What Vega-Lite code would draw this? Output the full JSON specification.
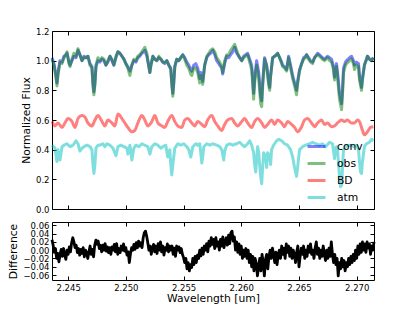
{
  "$schema": "https://vega.github.io/schema/vega-lite/v6.json",
  "padding": {"left": 7, "top": 26, "right": 5, "bottom": 5},
  "spacing": 13,
  "bounds": "flush",
  "config": {
    "font": "DejaVu Sans",
    "view": {"stroke": "black", "strokeWidth": 1},
    "axis": {"grid": false, "domain": false, "tickColor": "black", "tickSize": -4, "tickWidth": 1, "labelPadding": 7, "labelFontSize": 8.5, "labelColor": "black", "labelFont": "DejaVu Sans", "labelFlush": false, "labelOverlap": false, "titleFontSize": 10.75, "titleFontWeight": "normal", "titleColor": "black", "titleFont": "DejaVu Sans", "titlePadding": 4}
  },
  "datasets": {
    "spec": [
      {"w": 2.2436, "conv": 1.02, "obs": 1.01},
      {"w": 2.24377, "conv": 0.98, "obs": 0.97},
      {"w": 2.24395, "conv": 0.90, "obs": 0.88},
      {"w": 2.24403, "conv": 0.85, "obs": 0.83},
      {"w": 2.24412, "conv": 0.92, "obs": 0.90},
      {"w": 2.24429, "conv": 1.00, "obs": 0.99},
      {"w": 2.24447, "conv": 0.99, "obs": 0.98},
      {"w": 2.24464, "conv": 1.03, "obs": 1.02},
      {"w": 2.24481, "conv": 1.04, "obs": 1.04},
      {"w": 2.2449, "conv": 1.05, "obs": 1.06},
      {"w": 2.24507, "conv": 0.99, "obs": 0.98},
      {"w": 2.24516, "conv": 0.97, "obs": 0.96},
      {"w": 2.24533, "conv": 1.00, "obs": 1.01},
      {"w": 2.2455, "conv": 1.03, "obs": 1.05},
      {"w": 2.24568, "conv": 1.02, "obs": 1.03},
      {"w": 2.24585, "conv": 1.07, "obs": 1.08},
      {"w": 2.24602, "conv": 1.04, "obs": 1.04},
      {"w": 2.2462, "conv": 1.00, "obs": 1.00},
      {"w": 2.24637, "conv": 1.03, "obs": 1.02},
      {"w": 2.24654, "conv": 1.02, "obs": 1.02},
      {"w": 2.24671, "conv": 1.03, "obs": 1.03},
      {"w": 2.24689, "conv": 0.98, "obs": 0.97},
      {"w": 2.24706, "conv": 0.96, "obs": 0.95},
      {"w": 2.24715, "conv": 0.85, "obs": 0.83},
      {"w": 2.24723, "conv": 0.79, "obs": 0.77},
      {"w": 2.24732, "conv": 0.85, "obs": 0.84},
      {"w": 2.24741, "conv": 0.96, "obs": 0.97},
      {"w": 2.24758, "conv": 1.00, "obs": 1.02},
      {"w": 2.24775, "conv": 0.99, "obs": 1.00},
      {"w": 2.24793, "conv": 1.01, "obs": 1.02},
      {"w": 2.2481, "conv": 1.00, "obs": 1.01},
      {"w": 2.24827, "conv": 0.97, "obs": 0.97},
      {"w": 2.24844, "conv": 0.99, "obs": 1.00},
      {"w": 2.24862, "conv": 1.03, "obs": 1.03},
      {"w": 2.24879, "conv": 1.00, "obs": 1.01},
      {"w": 2.24896, "conv": 0.97, "obs": 0.97},
      {"w": 2.24914, "conv": 1.02, "obs": 1.03},
      {"w": 2.24931, "conv": 1.06, "obs": 1.06},
      {"w": 2.24948, "conv": 1.05, "obs": 1.05},
      {"w": 2.24966, "conv": 1.03, "obs": 1.03},
      {"w": 2.24983, "conv": 1.01, "obs": 1.01},
      {"w": 2.25, "conv": 0.98, "obs": 0.98},
      {"w": 2.25017, "conv": 0.96, "obs": 0.95},
      {"w": 2.25035, "conv": 0.93, "obs": 0.90},
      {"w": 2.25052, "conv": 0.97, "obs": 0.97},
      {"w": 2.25069, "conv": 1.00, "obs": 1.01},
      {"w": 2.25087, "conv": 0.99, "obs": 1.00},
      {"w": 2.25104, "conv": 1.02, "obs": 1.03},
      {"w": 2.25121, "conv": 1.03, "obs": 1.04},
      {"w": 2.25139, "conv": 1.05, "obs": 1.06},
      {"w": 2.25156, "conv": 1.06, "obs": 1.08},
      {"w": 2.25164, "conv": 1.07, "obs": 1.09},
      {"w": 2.25182, "conv": 1.03, "obs": 1.05},
      {"w": 2.25199, "conv": 0.96, "obs": 0.96},
      {"w": 2.25208, "conv": 0.92, "obs": 0.92},
      {"w": 2.25216, "conv": 0.97, "obs": 0.96},
      {"w": 2.25234, "conv": 1.03, "obs": 1.03},
      {"w": 2.25251, "conv": 1.01, "obs": 1.01},
      {"w": 2.25268, "conv": 1.00, "obs": 1.00},
      {"w": 2.25286, "conv": 1.02, "obs": 1.03},
      {"w": 2.25303, "conv": 1.01, "obs": 1.01},
      {"w": 2.2532, "conv": 0.99, "obs": 0.99},
      {"w": 2.25337, "conv": 0.98, "obs": 0.99},
      {"w": 2.25355, "conv": 1.00, "obs": 1.00},
      {"w": 2.25372, "conv": 0.97, "obs": 0.97},
      {"w": 2.25389, "conv": 0.95, "obs": 0.94},
      {"w": 2.25398, "conv": 0.85, "obs": 0.84},
      {"w": 2.25407, "conv": 0.78, "obs": 0.76},
      {"w": 2.25415, "conv": 0.85, "obs": 0.85},
      {"w": 2.25424, "conv": 0.96, "obs": 0.96},
      {"w": 2.25441, "conv": 1.01, "obs": 1.01},
      {"w": 2.25459, "conv": 1.00, "obs": 1.00},
      {"w": 2.25476, "conv": 1.02, "obs": 1.02},
      {"w": 2.25493, "conv": 1.04, "obs": 1.04},
      {"w": 2.2551, "conv": 1.02, "obs": 1.01},
      {"w": 2.25528, "conv": 0.99, "obs": 0.97},
      {"w": 2.25545, "conv": 0.97, "obs": 0.95},
      {"w": 2.25562, "conv": 0.94, "obs": 0.91},
      {"w": 2.25571, "conv": 0.93, "obs": 0.90},
      {"w": 2.25588, "conv": 0.97, "obs": 0.95},
      {"w": 2.25606, "conv": 0.98, "obs": 0.95},
      {"w": 2.25623, "conv": 0.95, "obs": 0.92},
      {"w": 2.2564, "conv": 0.88, "obs": 0.85},
      {"w": 2.25649, "conv": 0.92, "obs": 0.90},
      {"w": 2.25666, "conv": 0.86, "obs": 0.84},
      {"w": 2.25683, "conv": 0.97, "obs": 0.97},
      {"w": 2.25701, "conv": 1.02, "obs": 1.03},
      {"w": 2.25718, "conv": 1.04, "obs": 1.05},
      {"w": 2.25735, "conv": 1.05, "obs": 1.07},
      {"w": 2.25753, "conv": 1.07, "obs": 1.08},
      {"w": 2.2577, "conv": 1.04, "obs": 1.06},
      {"w": 2.25787, "conv": 1.00, "obs": 1.02},
      {"w": 2.25805, "conv": 0.98, "obs": 1.00},
      {"w": 2.25813, "conv": 0.97, "obs": 0.99},
      {"w": 2.25831, "conv": 0.95, "obs": 0.96},
      {"w": 2.25839, "conv": 0.91, "obs": 0.92},
      {"w": 2.25856, "conv": 0.98, "obs": 1.00},
      {"w": 2.25874, "conv": 1.03, "obs": 1.04},
      {"w": 2.25891, "conv": 1.02, "obs": 1.04},
      {"w": 2.25908, "conv": 1.04, "obs": 1.07},
      {"w": 2.25926, "conv": 1.06, "obs": 1.09},
      {"w": 2.25943, "conv": 1.09, "obs": 1.11},
      {"w": 2.2596, "conv": 1.05, "obs": 1.07},
      {"w": 2.25969, "conv": 1.04, "obs": 1.05},
      {"w": 2.25986, "conv": 1.02, "obs": 1.02},
      {"w": 2.26004, "conv": 1.00, "obs": 1.00},
      {"w": 2.26021, "conv": 1.03, "obs": 1.02},
      {"w": 2.26038, "conv": 1.04, "obs": 1.03},
      {"w": 2.26055, "conv": 1.05, "obs": 1.04},
      {"w": 2.26073, "conv": 1.01, "obs": 0.99},
      {"w": 2.2609, "conv": 0.97, "obs": 0.94},
      {"w": 2.26099, "conv": 0.88, "obs": 0.84},
      {"w": 2.26107, "conv": 0.78, "obs": 0.74},
      {"w": 2.26116, "conv": 0.88, "obs": 0.85},
      {"w": 2.26133, "conv": 1.00, "obs": 0.97},
      {"w": 2.26142, "conv": 0.96, "obs": 0.93},
      {"w": 2.26151, "conv": 0.92, "obs": 0.88},
      {"w": 2.26159, "conv": 0.85, "obs": 0.80},
      {"w": 2.26168, "conv": 0.76, "obs": 0.71},
      {"w": 2.26177, "conv": 0.73, "obs": 0.69},
      {"w": 2.26185, "conv": 0.85, "obs": 0.82},
      {"w": 2.26202, "conv": 1.02, "obs": 1.01},
      {"w": 2.2622, "conv": 0.97, "obs": 0.96},
      {"w": 2.26228, "conv": 0.92, "obs": 0.90},
      {"w": 2.26237, "conv": 0.86, "obs": 0.84},
      {"w": 2.26246, "conv": 0.82, "obs": 0.80},
      {"w": 2.26254, "conv": 0.90, "obs": 0.89},
      {"w": 2.26272, "conv": 1.02, "obs": 1.02},
      {"w": 2.26289, "conv": 1.03, "obs": 1.03},
      {"w": 2.26306, "conv": 1.04, "obs": 1.04},
      {"w": 2.26315, "conv": 1.05, "obs": 1.05},
      {"w": 2.26332, "conv": 1.02, "obs": 1.02},
      {"w": 2.2635, "conv": 0.99, "obs": 0.98},
      {"w": 2.26358, "conv": 0.97, "obs": 0.96},
      {"w": 2.26375, "conv": 0.96, "obs": 0.95},
      {"w": 2.26393, "conv": 0.94, "obs": 0.93},
      {"w": 2.2641, "conv": 1.03, "obs": 1.02},
      {"w": 2.26427, "conv": 0.97, "obs": 0.95},
      {"w": 2.26445, "conv": 0.90, "obs": 0.88},
      {"w": 2.26462, "conv": 0.85, "obs": 0.83},
      {"w": 2.26479, "conv": 0.80, "obs": 0.77},
      {"w": 2.26488, "conv": 0.86, "obs": 0.84},
      {"w": 2.26505, "conv": 0.94, "obs": 0.93},
      {"w": 2.26523, "conv": 0.98, "obs": 0.98},
      {"w": 2.2654, "conv": 1.02, "obs": 1.01},
      {"w": 2.26557, "conv": 1.03, "obs": 1.02},
      {"w": 2.26566, "conv": 1.04, "obs": 1.04},
      {"w": 2.26583, "conv": 1.02, "obs": 1.01},
      {"w": 2.266, "conv": 1.00, "obs": 0.99},
      {"w": 2.26618, "conv": 0.99, "obs": 0.98},
      {"w": 2.26635, "conv": 1.02, "obs": 1.02},
      {"w": 2.26661, "conv": 1.05, "obs": 1.04},
      {"w": 2.26678, "conv": 1.04, "obs": 1.03},
      {"w": 2.26704, "conv": 1.02, "obs": 1.01},
      {"w": 2.26721, "conv": 1.01, "obs": 1.00},
      {"w": 2.26747, "conv": 1.03, "obs": 1.02},
      {"w": 2.26765, "conv": 1.02, "obs": 1.00},
      {"w": 2.26782, "conv": 1.01, "obs": 0.99},
      {"w": 2.26799, "conv": 0.96, "obs": 0.94},
      {"w": 2.26808, "conv": 0.89, "obs": 0.87},
      {"w": 2.26817, "conv": 0.94, "obs": 0.92},
      {"w": 2.26825, "conv": 0.98, "obs": 0.96},
      {"w": 2.26834, "conv": 0.92, "obs": 0.89},
      {"w": 2.26843, "conv": 0.85, "obs": 0.81},
      {"w": 2.26851, "conv": 0.78, "obs": 0.74},
      {"w": 2.26869, "conv": 0.71, "obs": 0.67},
      {"w": 2.26877, "conv": 0.80, "obs": 0.77},
      {"w": 2.26886, "conv": 0.95, "obs": 0.92},
      {"w": 2.26903, "conv": 0.99, "obs": 0.97},
      {"w": 2.26912, "conv": 1.00, "obs": 0.98},
      {"w": 2.26938, "conv": 1.02, "obs": 1.00},
      {"w": 2.26955, "conv": 1.03, "obs": 1.01},
      {"w": 2.26972, "conv": 1.00, "obs": 0.98},
      {"w": 2.26981, "conv": 0.97, "obs": 0.94},
      {"w": 2.26998, "conv": 0.99, "obs": 0.97},
      {"w": 2.27016, "conv": 0.98, "obs": 0.96},
      {"w": 2.27024, "conv": 0.90, "obs": 0.87},
      {"w": 2.27042, "conv": 0.82, "obs": 0.80},
      {"w": 2.2705, "conv": 0.88, "obs": 0.87},
      {"w": 2.27067, "conv": 0.97, "obs": 0.97},
      {"w": 2.27085, "conv": 1.01, "obs": 1.01},
      {"w": 2.27093, "conv": 1.03, "obs": 1.03},
      {"w": 2.27111, "conv": 1.01, "obs": 1.01},
      {"w": 2.27128, "conv": 1.00, "obs": 1.00},
      {"w": 2.27145, "conv": 1.02, "obs": 1.02}
    ],
    "bd": [
      {"w": 2.2436, "f": 0.59}, {"w": 2.24386, "f": 0.56}, {"w": 2.24412, "f": 0.58}, {"w": 2.24447, "f": 0.55},
      {"w": 2.24472, "f": 0.58}, {"w": 2.24498, "f": 0.61}, {"w": 2.24533, "f": 0.59}, {"w": 2.24559, "f": 0.55},
      {"w": 2.24585, "f": 0.61}, {"w": 2.2462, "f": 0.63}, {"w": 2.24645, "f": 0.62}, {"w": 2.24671, "f": 0.58},
      {"w": 2.24706, "f": 0.56}, {"w": 2.24732, "f": 0.60}, {"w": 2.24758, "f": 0.63}, {"w": 2.24793, "f": 0.59},
      {"w": 2.24818, "f": 0.56}, {"w": 2.24844, "f": 0.60}, {"w": 2.24879, "f": 0.58}, {"w": 2.24905, "f": 0.56},
      {"w": 2.24931, "f": 0.64}, {"w": 2.24966, "f": 0.61}, {"w": 2.24991, "f": 0.58}, {"w": 2.25017, "f": 0.55},
      {"w": 2.25052, "f": 0.52}, {"w": 2.25078, "f": 0.53}, {"w": 2.25104, "f": 0.58}, {"w": 2.25139, "f": 0.63},
      {"w": 2.25164, "f": 0.60}, {"w": 2.2519, "f": 0.56}, {"w": 2.25225, "f": 0.59}, {"w": 2.25251, "f": 0.63},
      {"w": 2.25277, "f": 0.58}, {"w": 2.25312, "f": 0.56}, {"w": 2.25337, "f": 0.55}, {"w": 2.25363, "f": 0.59},
      {"w": 2.25398, "f": 0.63}, {"w": 2.25424, "f": 0.59}, {"w": 2.2545, "f": 0.56}, {"w": 2.25485, "f": 0.55},
      {"w": 2.2551, "f": 0.60}, {"w": 2.25536, "f": 0.61}, {"w": 2.25571, "f": 0.58}, {"w": 2.25597, "f": 0.56},
      {"w": 2.25623, "f": 0.59}, {"w": 2.25658, "f": 0.57}, {"w": 2.25683, "f": 0.555}, {"w": 2.25709, "f": 0.60},
      {"w": 2.25744, "f": 0.63}, {"w": 2.2577, "f": 0.59}, {"w": 2.25796, "f": 0.56}, {"w": 2.25831, "f": 0.53},
      {"w": 2.25856, "f": 0.57}, {"w": 2.25882, "f": 0.60}, {"w": 2.25917, "f": 0.61}, {"w": 2.25943, "f": 0.58},
      {"w": 2.25969, "f": 0.56}, {"w": 2.26004, "f": 0.59}, {"w": 2.26029, "f": 0.61}, {"w": 2.26055, "f": 0.58},
      {"w": 2.2609, "f": 0.55}, {"w": 2.26116, "f": 0.59}, {"w": 2.26142, "f": 0.61}, {"w": 2.26177, "f": 0.58},
      {"w": 2.26202, "f": 0.55}, {"w": 2.26228, "f": 0.57}, {"w": 2.26263, "f": 0.60}, {"w": 2.26289, "f": 0.57},
      {"w": 2.26315, "f": 0.60}, {"w": 2.2635, "f": 0.58}, {"w": 2.26375, "f": 0.555}, {"w": 2.26401, "f": 0.59},
      {"w": 2.26436, "f": 0.57}, {"w": 2.26462, "f": 0.55}, {"w": 2.26488, "f": 0.52}, {"w": 2.26523, "f": 0.555},
      {"w": 2.26548, "f": 0.60}, {"w": 2.26574, "f": 0.61}, {"w": 2.26609, "f": 0.58}, {"w": 2.26635, "f": 0.555},
      {"w": 2.26661, "f": 0.58}, {"w": 2.26696, "f": 0.60}, {"w": 2.26721, "f": 0.57}, {"w": 2.26747, "f": 0.58},
      {"w": 2.26782, "f": 0.555}, {"w": 2.26808, "f": 0.56}, {"w": 2.26834, "f": 0.58}, {"w": 2.26869, "f": 0.60},
      {"w": 2.26894, "f": 0.59}, {"w": 2.2692, "f": 0.60}, {"w": 2.26955, "f": 0.58}, {"w": 2.26981, "f": 0.58},
      {"w": 2.27007, "f": 0.60}, {"w": 2.27024, "f": 0.59}, {"w": 2.2705, "f": 0.53}, {"w": 2.27067, "f": 0.50},
      {"w": 2.27093, "f": 0.52}, {"w": 2.27119, "f": 0.55}, {"w": 2.27145, "f": 0.555}
    ],
    "atm": [
      {"w": 2.2436, "f": 0.43}, {"w": 2.24386, "f": 0.41}, {"w": 2.24403, "f": 0.32}, {"w": 2.24412, "f": 0.40},
      {"w": 2.24429, "f": 0.33}, {"w": 2.24447, "f": 0.42}, {"w": 2.24464, "f": 0.43}, {"w": 2.2449, "f": 0.44},
      {"w": 2.24516, "f": 0.42}, {"w": 2.24542, "f": 0.43}, {"w": 2.24568, "f": 0.46}, {"w": 2.24585, "f": 0.44},
      {"w": 2.24602, "f": 0.39}, {"w": 2.2462, "f": 0.41}, {"w": 2.24637, "f": 0.42}, {"w": 2.24663, "f": 0.43},
      {"w": 2.24689, "f": 0.42}, {"w": 2.24706, "f": 0.40}, {"w": 2.24715, "f": 0.30}, {"w": 2.24723, "f": 0.24},
      {"w": 2.24732, "f": 0.30}, {"w": 2.24741, "f": 0.41}, {"w": 2.24758, "f": 0.43}, {"w": 2.24775, "f": 0.43},
      {"w": 2.24801, "f": 0.44}, {"w": 2.24818, "f": 0.42}, {"w": 2.24836, "f": 0.44}, {"w": 2.24862, "f": 0.43},
      {"w": 2.24888, "f": 0.41}, {"w": 2.24914, "f": 0.36}, {"w": 2.24931, "f": 0.42}, {"w": 2.24957, "f": 0.43},
      {"w": 2.24983, "f": 0.42}, {"w": 2.25009, "f": 0.41}, {"w": 2.25017, "f": 0.37}, {"w": 2.25035, "f": 0.43},
      {"w": 2.25052, "f": 0.33}, {"w": 2.25069, "f": 0.41}, {"w": 2.25087, "f": 0.43}, {"w": 2.25113, "f": 0.42},
      {"w": 2.25139, "f": 0.44}, {"w": 2.25164, "f": 0.43}, {"w": 2.2519, "f": 0.42}, {"w": 2.25208, "f": 0.37},
      {"w": 2.25225, "f": 0.42}, {"w": 2.25251, "f": 0.44}, {"w": 2.25277, "f": 0.43}, {"w": 2.25303, "f": 0.41},
      {"w": 2.2532, "f": 0.42}, {"w": 2.25346, "f": 0.43}, {"w": 2.25363, "f": 0.35}, {"w": 2.25381, "f": 0.40},
      {"w": 2.25389, "f": 0.30}, {"w": 2.25398, "f": 0.23}, {"w": 2.25407, "f": 0.30}, {"w": 2.25424, "f": 0.41},
      {"w": 2.2545, "f": 0.44}, {"w": 2.25476, "f": 0.43}, {"w": 2.25502, "f": 0.44}, {"w": 2.25528, "f": 0.42},
      {"w": 2.25545, "f": 0.40}, {"w": 2.25562, "f": 0.35}, {"w": 2.2558, "f": 0.42}, {"w": 2.25606, "f": 0.44},
      {"w": 2.25623, "f": 0.43}, {"w": 2.2564, "f": 0.44}, {"w": 2.25649, "f": 0.38}, {"w": 2.25658, "f": 0.31},
      {"w": 2.25666, "f": 0.35}, {"w": 2.25675, "f": 0.42}, {"w": 2.25701, "f": 0.44}, {"w": 2.25727, "f": 0.43},
      {"w": 2.25753, "f": 0.44}, {"w": 2.25787, "f": 0.43}, {"w": 2.25813, "f": 0.42}, {"w": 2.25831, "f": 0.40},
      {"w": 2.25848, "f": 0.33}, {"w": 2.25856, "f": 0.39}, {"w": 2.25874, "f": 0.43}, {"w": 2.259, "f": 0.44},
      {"w": 2.25926, "f": 0.43}, {"w": 2.2596, "f": 0.44}, {"w": 2.25986, "f": 0.45}, {"w": 2.26012, "f": 0.43},
      {"w": 2.26029, "f": 0.42}, {"w": 2.26055, "f": 0.44}, {"w": 2.26073, "f": 0.46}, {"w": 2.2609, "f": 0.43},
      {"w": 2.26107, "f": 0.38}, {"w": 2.26116, "f": 0.30}, {"w": 2.26125, "f": 0.25}, {"w": 2.26133, "f": 0.33},
      {"w": 2.26142, "f": 0.42}, {"w": 2.26151, "f": 0.38}, {"w": 2.26159, "f": 0.30}, {"w": 2.26168, "f": 0.22},
      {"w": 2.26177, "f": 0.17}, {"w": 2.26185, "f": 0.28}, {"w": 2.26194, "f": 0.38}, {"w": 2.26211, "f": 0.35},
      {"w": 2.2622, "f": 0.28}, {"w": 2.26228, "f": 0.38}, {"w": 2.26246, "f": 0.36}, {"w": 2.26254, "f": 0.30},
      {"w": 2.26263, "f": 0.40}, {"w": 2.2628, "f": 0.43}, {"w": 2.26306, "f": 0.46}, {"w": 2.26324, "f": 0.47},
      {"w": 2.2635, "f": 0.46}, {"w": 2.26375, "f": 0.44}, {"w": 2.26401, "f": 0.43}, {"w": 2.26427, "f": 0.40},
      {"w": 2.26445, "f": 0.35}, {"w": 2.26462, "f": 0.28}, {"w": 2.26479, "f": 0.22}, {"w": 2.26488, "f": 0.28},
      {"w": 2.26505, "f": 0.40}, {"w": 2.26531, "f": 0.42}, {"w": 2.26557, "f": 0.43}, {"w": 2.26592, "f": 0.44},
      {"w": 2.26618, "f": 0.45}, {"w": 2.26644, "f": 0.44}, {"w": 2.26678, "f": 0.43}, {"w": 2.26704, "f": 0.44},
      {"w": 2.2673, "f": 0.42}, {"w": 2.26765, "f": 0.45}, {"w": 2.26791, "f": 0.44}, {"w": 2.26808, "f": 0.34},
      {"w": 2.26817, "f": 0.40}, {"w": 2.26825, "f": 0.42}, {"w": 2.26834, "f": 0.40}, {"w": 2.26843, "f": 0.30},
      {"w": 2.26851, "f": 0.22}, {"w": 2.2686, "f": 0.15}, {"w": 2.26869, "f": 0.16}, {"w": 2.26877, "f": 0.28},
      {"w": 2.26886, "f": 0.40}, {"w": 2.26903, "f": 0.42}, {"w": 2.26938, "f": 0.43}, {"w": 2.26972, "f": 0.42},
      {"w": 2.26998, "f": 0.43}, {"w": 2.27016, "f": 0.40}, {"w": 2.27024, "f": 0.32}, {"w": 2.27033, "f": 0.25},
      {"w": 2.27042, "f": 0.24}, {"w": 2.2705, "f": 0.32}, {"w": 2.27067, "f": 0.42}, {"w": 2.27085, "f": 0.44},
      {"w": 2.27111, "f": 0.45}, {"w": 2.27128, "f": 0.47}, {"w": 2.27145, "f": 0.46}
    ],
    "diff": [
      {"w": 2.2436, "d": 0.025}, {"w": 2.2437, "d": 0.012}, {"w": 2.2438, "d": -0.005}, {"w": 2.2439, "d": 0.004},
      {"w": 2.244, "d": -0.02}, {"w": 2.2441, "d": -0.008}, {"w": 2.2442, "d": -0.028}, {"w": 2.2443, "d": -0.01},
      {"w": 2.2444, "d": 0.002}, {"w": 2.2445, "d": -0.015}, {"w": 2.2446, "d": 0.004}, {"w": 2.2447, "d": -0.012},
      {"w": 2.2448, "d": -0.022}, {"w": 2.2449, "d": 0.0}, {"w": 2.245, "d": -0.01}, {"w": 2.2451, "d": 0.008},
      {"w": 2.2452, "d": -0.004}, {"w": 2.2453, "d": 0.018}, {"w": 2.2454, "d": 0.03}, {"w": 2.2455, "d": 0.02},
      {"w": 2.2456, "d": 0.006}, {"w": 2.2457, "d": 0.012}, {"w": 2.2458, "d": -0.006}, {"w": 2.2459, "d": 0.004},
      {"w": 2.246, "d": -0.012}, {"w": 2.2461, "d": 0.002}, {"w": 2.2462, "d": -0.008}, {"w": 2.2463, "d": 0.006},
      {"w": 2.2464, "d": -0.016}, {"w": 2.2465, "d": 0.0}, {"w": 2.2466, "d": -0.006}, {"w": 2.2467, "d": -0.02},
      {"w": 2.2468, "d": -0.004}, {"w": 2.2469, "d": 0.01}, {"w": 2.247, "d": -0.01}, {"w": 2.2471, "d": 0.002},
      {"w": 2.2472, "d": -0.016}, {"w": 2.2473, "d": 0.012}, {"w": 2.2474, "d": 0.024}, {"w": 2.2475, "d": 0.014},
      {"w": 2.2476, "d": 0.022}, {"w": 2.2477, "d": 0.004}, {"w": 2.2478, "d": 0.012}, {"w": 2.2479, "d": -0.004},
      {"w": 2.248, "d": 0.012}, {"w": 2.2481, "d": 0.0}, {"w": 2.2482, "d": 0.016}, {"w": 2.2483, "d": -0.002},
      {"w": 2.2484, "d": 0.008}, {"w": 2.2485, "d": -0.006}, {"w": 2.2486, "d": 0.006}, {"w": 2.2487, "d": -0.01},
      {"w": 2.2488, "d": 0.008}, {"w": 2.2489, "d": 0.0}, {"w": 2.249, "d": 0.014}, {"w": 2.2491, "d": -0.004},
      {"w": 2.2492, "d": 0.016}, {"w": 2.2493, "d": -0.01}, {"w": 2.2494, "d": 0.004}, {"w": 2.2495, "d": -0.006},
      {"w": 2.2496, "d": 0.01}, {"w": 2.2497, "d": 0.0}, {"w": 2.2498, "d": 0.015}, {"w": 2.2499, "d": -0.002},
      {"w": 2.25, "d": 0.006}, {"w": 2.2501, "d": -0.012}, {"w": 2.2502, "d": -0.004}, {"w": 2.2503, "d": -0.03},
      {"w": 2.2504, "d": -0.008}, {"w": 2.2505, "d": 0.006}, {"w": 2.2506, "d": 0.0}, {"w": 2.2507, "d": 0.014},
      {"w": 2.2508, "d": 0.002}, {"w": 2.2509, "d": 0.018}, {"w": 2.251, "d": 0.006}, {"w": 2.2511, "d": 0.022},
      {"w": 2.2512, "d": 0.01}, {"w": 2.2513, "d": 0.018}, {"w": 2.2514, "d": 0.006}, {"w": 2.2515, "d": 0.03},
      {"w": 2.2516, "d": 0.042}, {"w": 2.2517, "d": 0.046}, {"w": 2.2518, "d": 0.034}, {"w": 2.2519, "d": 0.018},
      {"w": 2.252, "d": 0.0}, {"w": 2.2521, "d": 0.01}, {"w": 2.2522, "d": -0.01}, {"w": 2.2523, "d": 0.006},
      {"w": 2.2524, "d": 0.014}, {"w": 2.2525, "d": -0.004}, {"w": 2.2526, "d": 0.01}, {"w": 2.2527, "d": -0.008},
      {"w": 2.2528, "d": 0.016}, {"w": 2.2529, "d": 0.0}, {"w": 2.253, "d": 0.02}, {"w": 2.2531, "d": -0.004},
      {"w": 2.2532, "d": 0.01}, {"w": 2.2533, "d": -0.012}, {"w": 2.2534, "d": 0.006}, {"w": 2.2535, "d": 0.0},
      {"w": 2.2536, "d": 0.015}, {"w": 2.2537, "d": -0.004}, {"w": 2.2538, "d": 0.01}, {"w": 2.2539, "d": 0.0},
      {"w": 2.254, "d": 0.01}, {"w": 2.2541, "d": -0.01}, {"w": 2.2542, "d": 0.005}, {"w": 2.2543, "d": -0.015},
      {"w": 2.2544, "d": 0.01}, {"w": 2.2545, "d": 0.0}, {"w": 2.2546, "d": 0.008}, {"w": 2.2547, "d": -0.006},
      {"w": 2.2548, "d": 0.004}, {"w": 2.2549, "d": -0.01}, {"w": 2.255, "d": -0.018}, {"w": 2.2551, "d": -0.03},
      {"w": 2.2552, "d": -0.02}, {"w": 2.2553, "d": -0.045}, {"w": 2.2554, "d": -0.03}, {"w": 2.2555, "d": -0.05},
      {"w": 2.2556, "d": -0.035}, {"w": 2.2557, "d": -0.042}, {"w": 2.2558, "d": -0.02}, {"w": 2.2559, "d": -0.035},
      {"w": 2.256, "d": -0.015}, {"w": 2.2561, "d": -0.03}, {"w": 2.2562, "d": -0.012}, {"w": 2.2563, "d": -0.02},
      {"w": 2.2564, "d": 0.0}, {"w": 2.2565, "d": -0.014}, {"w": 2.2566, "d": 0.005}, {"w": 2.2567, "d": -0.01},
      {"w": 2.2568, "d": 0.01}, {"w": 2.2569, "d": 0.0}, {"w": 2.257, "d": 0.016}, {"w": 2.2571, "d": -0.004},
      {"w": 2.2572, "d": 0.022}, {"w": 2.2573, "d": 0.01}, {"w": 2.2574, "d": 0.03}, {"w": 2.2575, "d": 0.014},
      {"w": 2.2576, "d": 0.026}, {"w": 2.2577, "d": 0.004}, {"w": 2.2578, "d": 0.03}, {"w": 2.2579, "d": 0.01},
      {"w": 2.258, "d": 0.02}, {"w": 2.2581, "d": 0.0}, {"w": 2.2582, "d": 0.026}, {"w": 2.2583, "d": 0.01},
      {"w": 2.2584, "d": 0.032}, {"w": 2.2585, "d": 0.006}, {"w": 2.2586, "d": 0.02}, {"w": 2.2587, "d": 0.03},
      {"w": 2.2588, "d": 0.012}, {"w": 2.2589, "d": 0.036}, {"w": 2.259, "d": 0.016}, {"w": 2.2591, "d": 0.042},
      {"w": 2.2592, "d": 0.046}, {"w": 2.2593, "d": 0.022}, {"w": 2.2594, "d": 0.032}, {"w": 2.2595, "d": 0.0},
      {"w": 2.2596, "d": 0.02}, {"w": 2.2597, "d": -0.005}, {"w": 2.2598, "d": 0.015}, {"w": 2.2599, "d": -0.01},
      {"w": 2.26, "d": 0.01}, {"w": 2.2601, "d": -0.02}, {"w": 2.2602, "d": 0.0}, {"w": 2.2603, "d": -0.015},
      {"w": 2.2604, "d": 0.004}, {"w": 2.2605, "d": -0.02}, {"w": 2.2606, "d": 0.0}, {"w": 2.2607, "d": -0.03},
      {"w": 2.2608, "d": -0.01}, {"w": 2.2609, "d": -0.04}, {"w": 2.261, "d": -0.015}, {"w": 2.2611, "d": -0.05},
      {"w": 2.2612, "d": -0.02}, {"w": 2.2613, "d": -0.032}, {"w": 2.2614, "d": -0.062}, {"w": 2.2615, "d": -0.04},
      {"w": 2.2616, "d": -0.02}, {"w": 2.2617, "d": -0.05}, {"w": 2.2618, "d": -0.01}, {"w": 2.2619, "d": -0.03},
      {"w": 2.262, "d": -0.062}, {"w": 2.2621, "d": -0.022}, {"w": 2.2622, "d": -0.01}, {"w": 2.2623, "d": -0.045},
      {"w": 2.2624, "d": -0.015}, {"w": 2.2625, "d": 0.0}, {"w": 2.2626, "d": -0.02}, {"w": 2.2627, "d": 0.005},
      {"w": 2.2628, "d": -0.01}, {"w": 2.2629, "d": -0.03}, {"w": 2.263, "d": -0.005}, {"w": 2.2631, "d": -0.035},
      {"w": 2.2632, "d": -0.01}, {"w": 2.2633, "d": 0.0}, {"w": 2.2634, "d": -0.02}, {"w": 2.2635, "d": 0.01},
      {"w": 2.2636, "d": -0.01}, {"w": 2.2637, "d": 0.005}, {"w": 2.2638, "d": -0.02}, {"w": 2.2639, "d": 0.015},
      {"w": 2.264, "d": -0.005}, {"w": 2.2641, "d": 0.01}, {"w": 2.2642, "d": -0.015}, {"w": 2.2643, "d": 0.005},
      {"w": 2.2644, "d": -0.02}, {"w": 2.2645, "d": 0.0}, {"w": 2.2646, "d": -0.01}, {"w": 2.2647, "d": -0.03},
      {"w": 2.2648, "d": -0.005}, {"w": 2.2649, "d": 0.01}, {"w": 2.265, "d": -0.04}, {"w": 2.2651, "d": -0.015},
      {"w": 2.2652, "d": 0.005}, {"w": 2.2653, "d": -0.01}, {"w": 2.2654, "d": 0.01}, {"w": 2.2655, "d": -0.02},
      {"w": 2.2656, "d": 0.0}, {"w": 2.2657, "d": -0.015}, {"w": 2.2658, "d": 0.01}, {"w": 2.2659, "d": -0.005},
      {"w": 2.266, "d": 0.015}, {"w": 2.2661, "d": -0.01}, {"w": 2.2662, "d": 0.0}, {"w": 2.2663, "d": -0.02},
      {"w": 2.2664, "d": 0.005}, {"w": 2.2665, "d": 0.02}, {"w": 2.2666, "d": -0.01}, {"w": 2.2667, "d": 0.005},
      {"w": 2.2668, "d": -0.02}, {"w": 2.2669, "d": 0.0}, {"w": 2.267, "d": -0.015}, {"w": 2.2671, "d": 0.01},
      {"w": 2.2672, "d": -0.01}, {"w": 2.2673, "d": -0.025}, {"w": 2.2674, "d": 0.0}, {"w": 2.2675, "d": -0.02},
      {"w": 2.2676, "d": 0.005}, {"w": 2.2677, "d": -0.015}, {"w": 2.2678, "d": 0.02}, {"w": 2.2679, "d": -0.01},
      {"w": 2.268, "d": -0.03}, {"w": 2.2681, "d": -0.01}, {"w": 2.2682, "d": -0.035}, {"w": 2.2683, "d": -0.02},
      {"w": 2.2684, "d": -0.062}, {"w": 2.2685, "d": -0.03}, {"w": 2.2686, "d": -0.045}, {"w": 2.2687, "d": -0.02},
      {"w": 2.2688, "d": -0.04}, {"w": 2.2689, "d": -0.025}, {"w": 2.269, "d": -0.05}, {"w": 2.2691, "d": -0.03},
      {"w": 2.2692, "d": -0.04}, {"w": 2.2693, "d": -0.02}, {"w": 2.2694, "d": -0.035}, {"w": 2.2695, "d": -0.015},
      {"w": 2.2696, "d": -0.03}, {"w": 2.2697, "d": -0.01}, {"w": 2.2698, "d": -0.025}, {"w": 2.2699, "d": 0.0},
      {"w": 2.27, "d": -0.02}, {"w": 2.2701, "d": 0.01}, {"w": 2.2702, "d": -0.01}, {"w": 2.2703, "d": 0.015},
      {"w": 2.2704, "d": -0.005}, {"w": 2.2705, "d": 0.02}, {"w": 2.2706, "d": 0.0}, {"w": 2.2707, "d": 0.015},
      {"w": 2.2708, "d": -0.005}, {"w": 2.2709, "d": 0.02}, {"w": 2.271, "d": 0.005}, {"w": 2.2711, "d": 0.015},
      {"w": 2.2712, "d": -0.01}, {"w": 2.2713, "d": 0.01}, {"w": 2.2714, "d": 0.0}, {"w": 2.2715, "d": 0.02}
    ]
  },
  "vconcat": [
    {
      "width": 322,
      "height": 178,
      "layer": [
        {
          "data": {"name": "spec"},
          "mark": {"type": "line", "strokeWidth": 3, "opacity": 0.5, "strokeJoin": "round"},
          "encoding": {
            "x": {"field": "w", "type": "quantitative", "scale": {"domain": [2.2436, 2.2715], "nice": false, "zero": false},
                  "axis": {"orient": "bottom", "labels": false, "title": null, "values": [2.245, 2.25, 2.255, 2.26, 2.265, 2.27]}},
            "y": {"field": "conv", "type": "quantitative", "scale": {"domain": [0, 1.2], "nice": false, "zero": false},
                  "axis": {"orient": "left", "title": "Normalized Flux", "values": [0, 0.2, 0.4, 0.6, 0.8, 1.0, 1.2], "format": ".1f"}},
            "color": {"datum": "conv", "type": "nominal",
                      "scale": {"domain": ["conv", "obs", "BD", "atm"], "range": ["#0000ff", "#008000", "#ff0000", "#00bfbf"]},
                      "legend": {"title": null, "orient": "none", "legendX": 254, "legendY": 105, "symbolType": "stroke", "symbolStrokeWidth": 3, "symbolOpacity": 0.5, "symbolSize": 320, "labelFontSize": 10.75, "labelColor": "black", "labelFont": "DejaVu Sans", "rowPadding": -2.6, "padding": 0, "labelOffset": 10}}
          }
        },
        {
          "data": {"name": "spec"},
          "mark": {"type": "line", "strokeWidth": 3, "opacity": 0.5, "strokeJoin": "round"},
          "encoding": {
            "x": {"field": "w", "type": "quantitative", "scale": {"domain": [2.2436, 2.2715], "nice": false, "zero": false}, "axis": null},
            "y": {"field": "obs", "type": "quantitative", "scale": {"domain": [0, 1.2], "nice": false, "zero": false}, "axis": null},
            "color": {"datum": "obs", "type": "nominal", "scale": {"domain": ["conv", "obs", "BD", "atm"], "range": ["#0000ff", "#008000", "#ff0000", "#00bfbf"]}}
          }
        },
        {
          "data": {"name": "bd"},
          "mark": {"type": "line", "strokeWidth": 3, "opacity": 0.5, "strokeJoin": "round", "interpolate": "monotone"},
          "encoding": {
            "x": {"field": "w", "type": "quantitative", "scale": {"domain": [2.2436, 2.2715], "nice": false, "zero": false},
                  "axis": {"orient": "top", "labels": false, "title": null, "values": [2.245, 2.25, 2.255, 2.26, 2.265, 2.27]}},
            "y": {"field": "f", "type": "quantitative", "scale": {"domain": [0, 1.2], "nice": false, "zero": false},
                  "axis": {"orient": "right", "labels": false, "title": null, "values": [0, 0.2, 0.4, 0.6, 0.8, 1.0, 1.2]}},
            "color": {"datum": "BD", "type": "nominal", "scale": {"domain": ["conv", "obs", "BD", "atm"], "range": ["#0000ff", "#008000", "#ff0000", "#00bfbf"]}}
          }
        },
        {
          "data": {"name": "atm"},
          "mark": {"type": "line", "strokeWidth": 3, "opacity": 0.5, "strokeJoin": "round"},
          "encoding": {
            "x": {"field": "w", "type": "quantitative", "scale": {"domain": [2.2436, 2.2715], "nice": false, "zero": false}, "axis": null},
            "y": {"field": "f", "type": "quantitative", "scale": {"domain": [0, 1.2], "nice": false, "zero": false}, "axis": null},
            "color": {"datum": "atm", "type": "nominal", "scale": {"domain": ["conv", "obs", "BD", "atm"], "range": ["#0000ff", "#008000", "#ff0000", "#00bfbf"]}}
          }
        }
      ]
    },
    {
      "width": 322,
      "height": 58,
      "data": {"name": "diff"},
      "layer": [
        {
          "mark": {"type": "line", "color": "black", "strokeWidth": 2.8, "strokeJoin": "round"},
          "encoding": {
            "x": {"field": "w", "type": "quantitative", "scale": {"domain": [2.2436, 2.2715], "nice": false, "zero": false},
                  "axis": {"orient": "bottom", "title": "Wavelength [um]", "titlePadding": 2, "values": [2.245, 2.25, 2.255, 2.26, 2.265, 2.27], "format": ".3f"}},
            "y": {"field": "d", "type": "quantitative", "scale": {"domain": [-0.072, 0.068], "nice": false, "zero": false},
                  "axis": {"orient": "left", "title": "Difference", "values": [-0.06, -0.04, -0.02, 0, 0.02, 0.04, 0.06], "format": ".2f"}}
          }
        },
        {
          "mark": {"type": "line", "strokeOpacity": 0},
          "encoding": {
            "x": {"field": "w", "type": "quantitative", "scale": {"domain": [2.2436, 2.2715], "nice": false, "zero": false},
                  "axis": {"orient": "top", "labels": false, "title": null, "values": [2.245, 2.25, 2.255, 2.26, 2.265, 2.27]}},
            "y": {"field": "d", "type": "quantitative", "scale": {"domain": [-0.072, 0.068], "nice": false, "zero": false},
                  "axis": {"orient": "right", "labels": false, "title": null, "values": [-0.06, -0.04, -0.02, 0, 0.02, 0.04, 0.06]}}
          }
        }
      ]
    }
  ]
}
